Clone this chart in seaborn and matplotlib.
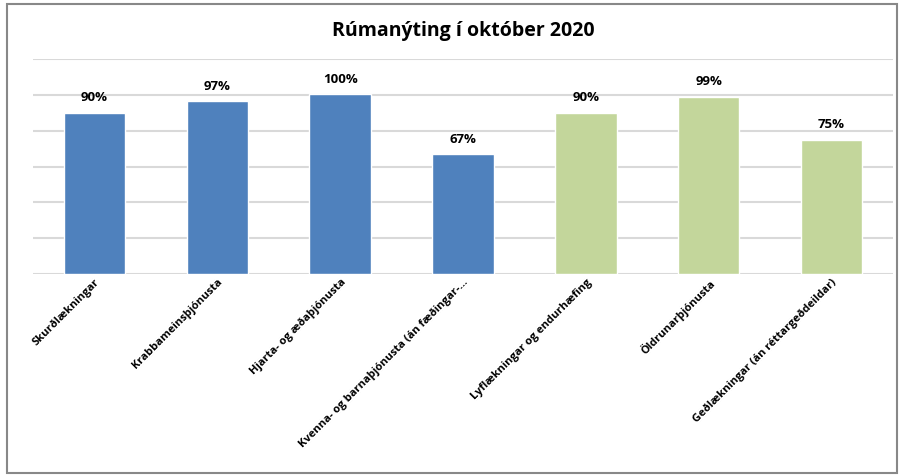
import matplotlib
matplotlib.use("Agg")
import matplotlib.pyplot as plt
import seaborn as sns
import pandas as pd
from matplotlib.patches import Rectangle

categories = [
    "Skurðlækningar",
    "Krabbameinsþjónusta",
    "Hjarta- og æðaþjónusta",
    "Kvenna- og barnaþjónusta (án fæðingar-…",
    "Lyflækningar og endurhæfing",
    "Öldrunarþjónusta",
    "Geðlækningar (án réttargeðdeildar)",
]
values = [0.90, 0.965, 1.003, 0.67, 0.90, 0.99, 0.75]
labels = ["90%", "97%", "100%", "67%", "90%", "99%", "75%"]
colors = ["#4F81BD", "#4F81BD", "#4F81BD", "#4F81BD", "#C3D69B", "#C3D69B", "#C3D69B"]
title = "Rúmanýting í október 2020"

sns.set_theme(style="white")
plt.rcParams["font.family"] = ["Open Sans", "DejaVu Sans"]
plt.rcParams["text.color"] = "#000000"
plt.rcParams["xtick.color"] = "#000000"

df = pd.DataFrame({"cat": categories, "val": values})

fig = plt.figure(figsize=(9.03, 4.75), dpi=100)
ax = fig.add_axes([33 / 903, 1 - 274 / 475, 860 / 903, 215 / 475])

sns.barplot(data=df, x="cat", y="val", hue="cat", palette=colors, legend=False,
            width=0.5, ax=ax, saturation=1, zorder=3)

ax.set_ylim(0, 1.2)
ax.set_xlim(-0.5, len(categories) - 0.5)
ax.set_yticks([0.2 * i for i in range(7)])
ax.set_yticklabels([])
ax.tick_params(axis="y", length=0)
ax.tick_params(axis="x", length=0, pad=2, labelcolor="#000000")
ax.grid(axis="y", color="#D9D9D9", linewidth=1.5, zorder=0)
for s in ax.spines.values():
    s.set_visible(False)
ax.set_xlabel("")
ax.set_ylabel("")

ax.set_xticks(range(len(categories)))
ax.set_xticklabels(categories, rotation=45, ha="right", va="top",
                   rotation_mode="anchor", fontsize=8, fontweight="bold", color="#000000")

for cont, lab in zip(ax.containers, labels):
    ax.bar_label(cont, labels=[lab], padding=6, fontsize=9.5, fontweight="bold", color="#000000")

fig.text(463 / 903, 1 - 31 / 475, title, ha="center", va="center", fontsize=14,
         fontweight="bold", color="#000000")

fig.patches.append(Rectangle((7 / 903, 2 / 475), 890 / 903, 469 / 475, transform=fig.transFigure,
                             fill=False, edgecolor="#888888", linewidth=1.5))

fig.savefig("out.png", dpi=100)
